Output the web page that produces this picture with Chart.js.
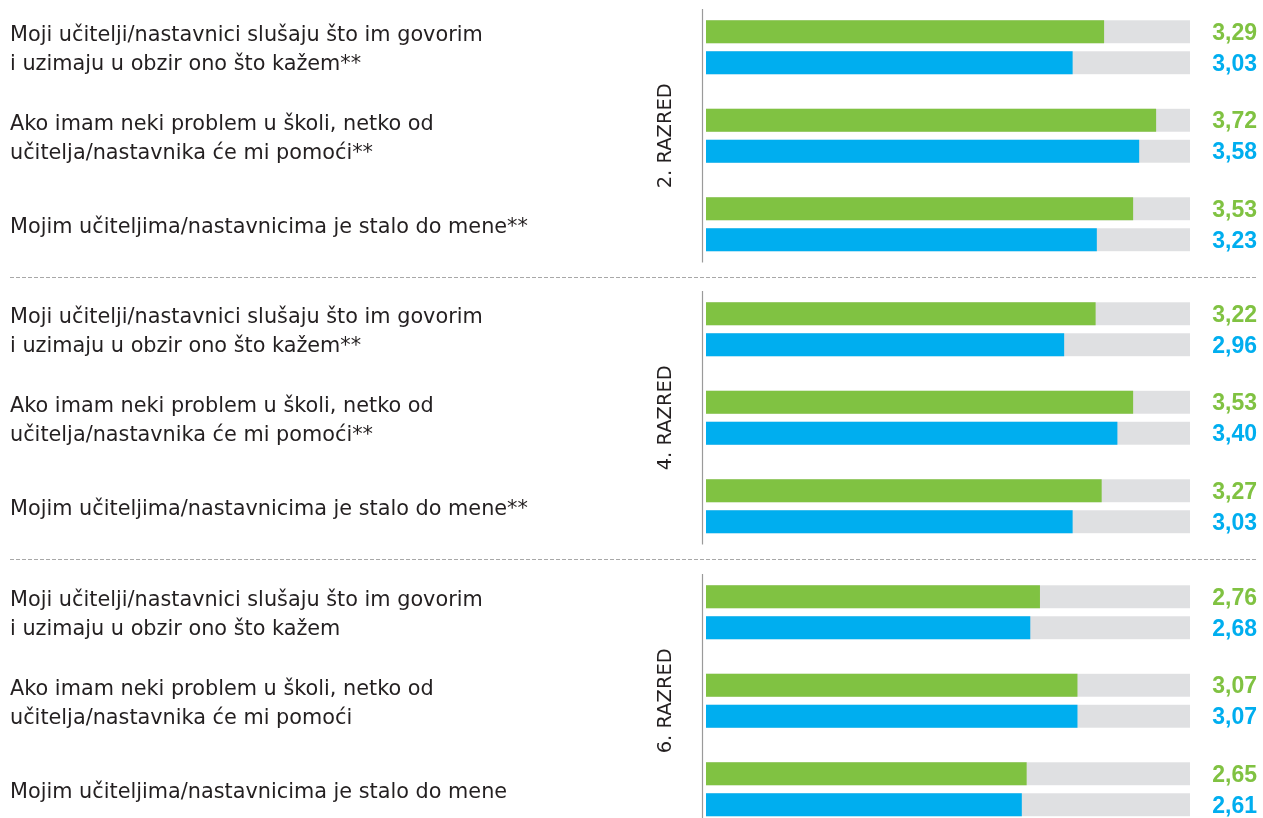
<!DOCTYPE html>
<html>
<head>
<meta charset="utf-8">
<script src="https://cdn.jsdelivr.net/npm/chart.js@4"></script>
<style>
  html, body { margin: 0; padding: 0; background: #fff; }
  #wrap { position: relative; width: 1263px; height: 818px; overflow: hidden; }
  .grp { position: absolute; left: 0; width: 1263px; height: 282px; }
</style>
</head>
<body>
<div id="wrap">
  <div class="grp" style="top:0px"><canvas id="g2"></canvas></div>
  <div class="grp" style="top:282px"><canvas id="g4"></canvas></div>
  <div class="grp" style="top:565px"><canvas id="g6"></canvas></div>
</div>
<script>
// questions per grade (2. and 4. razred carry the ** mark)
const questionsStar = [
  ['Moji učitelji/nastavnici slušaju što im govorim', 'i uzimaju u obzir ono što kažem**'],
  ['Ako imam neki problem u školi, netko od', 'učitelja/nastavnika će mi pomoći**'],
  'Mojim učiteljima/nastavnicima je stalo do mene**'
];
const questionsPlain = [
  ['Moji učitelji/nastavnici slušaju što im govorim', 'i uzimaju u obzir ono što kažem'],
  ['Ako imam neki problem u školi, netko od', 'učitelja/nastavnika će mi pomoći'],
  'Mojim učiteljima/nastavnicima je stalo do mene'
];
const groupTitles = ['2. RAZRED', '4. RAZRED', '6. RAZRED'];

const green2 = [3.29, 3.72, 3.53];
const blue2  = [3.03, 3.58, 3.23];
const green4 = [3.22, 3.53, 3.27];
const blue4  = [2.96, 3.40, 3.03];
const green6 = [2.76, 3.07, 2.65];
const blue6  = [2.68, 3.07, 2.61];

const scaleMax = 4;

const GREEN = '#80c242';
const BLUE = '#00aeef';
const TRACK = '#dfe0e2';
const TEXT = '#231f20';

const fmt = v => v.toFixed(2).replace('.', ',');

// grey track behind each bar, 0..max
const trackPlugin = {
  id: 'track',
  beforeDatasetsDraw(chart) {
    const ctx = chart.ctx;
    const xs = chart.scales.x;
    const x0 = xs.getPixelForValue(0);
    const x1 = xs.getPixelForValue(scaleMax);
    ctx.save();
    ctx.fillStyle = TRACK;
    chart.data.datasets.forEach((ds, i) => {
      chart.getDatasetMeta(i).data.forEach(el => {
        const p = el.getProps(['y', 'height'], true);
        ctx.fillRect(x0, p.y - p.height / 2, x1 - x0, p.height);
      });
    });
    ctx.restore();
  }
};

// value labels, separator, axis line, group title
const decoPlugin = {
  id: 'deco',
  afterDatasetsDraw(chart, args, opts) {
    const ctx = chart.ctx;
    const area = chart.chartArea;
    ctx.save();
    ctx.font = 'bold 23px "Liberation Sans", Arial, sans-serif';
    ctx.textAlign = 'right';
    ctx.textBaseline = 'middle';
    chart.data.datasets.forEach((ds, i) => {
      ctx.fillStyle = ds.backgroundColor;
      chart.getDatasetMeta(i).data.forEach((el, j) => {
        const p = el.getProps(['y'], true);
        ctx.fillText(fmt(ds.data[j]), chart.width - 6, p.y + 1.5);
      });
    });

    // vertical axis line
    const ax = chart.scales.x.getPixelForValue(0) - 3.5;
    ctx.strokeStyle = '#9a9a9a';
    ctx.lineWidth = 1.2;
    ctx.beginPath();
    ctx.moveTo(ax, area.top + 6);
    ctx.lineTo(ax, area.bottom - 6);
    ctx.stroke();

    // dashed separator under the group
    if (opts.separator) {
      const y = Math.round(area.bottom + 8) + 0.5;
      ctx.strokeStyle = '#a8a8a8';
      ctx.lineWidth = 1;
      ctx.setLineDash([4, 2]);
      ctx.beginPath();
      ctx.moveTo(10, y);
      ctx.lineTo(1258, y);
      ctx.stroke();
      ctx.setLineDash([]);
    }

    // rotated group title
    ctx.translate(666, (area.top + area.bottom) / 2);
    ctx.rotate(-Math.PI / 2);
    ctx.font = '19.5px "DejaVu Sans", sans-serif';
    ctx.fillStyle = TEXT;
    ctx.textAlign = 'center';
    ctx.textBaseline = 'middle';
    ctx.fillText(opts.title, 0, 0);
    ctx.restore();
  }
};

function makeChart(id, labels, greens, blues, title, separator) {
  const ctx = document.getElementById(id).getContext('2d');
  return new Chart(ctx, {
    type: 'bar',
    data: {
      labels: labels,
      datasets: [
        { data: greens, backgroundColor: GREEN },
        { data: blues, backgroundColor: BLUE }
      ]
    },
    options: {
      indexAxis: 'y',
      responsive: true,
      maintainAspectRatio: false,
      animation: false,
      categoryPercentage: 0.7,
      barPercentage: 0.74,
      layout: { padding: { top: 3, bottom: 13.5, left: 10, right: 73 } },
      scales: {
        x: { display: false, min: 0, max: scaleMax },
        y: {
          grid: { display: false },
          border: { display: false },
          afterFit: s => {
            s.width = 696;
            s.paddingTop = 0;
            s.paddingBottom = 0;
          },
          ticks: {
            crossAlign: 'far',
            padding: 0,
            labelOffset: 3,
            autoSkip: false,
            color: TEXT,
            font: { family: '"DejaVu Sans", sans-serif', size: 20.8, lineHeight: 1.4 }
          }
        }
      },
      plugins: {
        legend: { display: false },
        tooltip: { enabled: false },
        deco: { title: title, separator: separator }
      }
    },
    plugins: [trackPlugin, decoPlugin]
  });
}

makeChart('g2', questionsStar, green2, blue2, groupTitles[0], true);
makeChart('g4', questionsStar, green4, blue4, groupTitles[1], true);
makeChart('g6', questionsPlain, green6, blue6, groupTitles[2], false);
</script>
</body>
</html>
